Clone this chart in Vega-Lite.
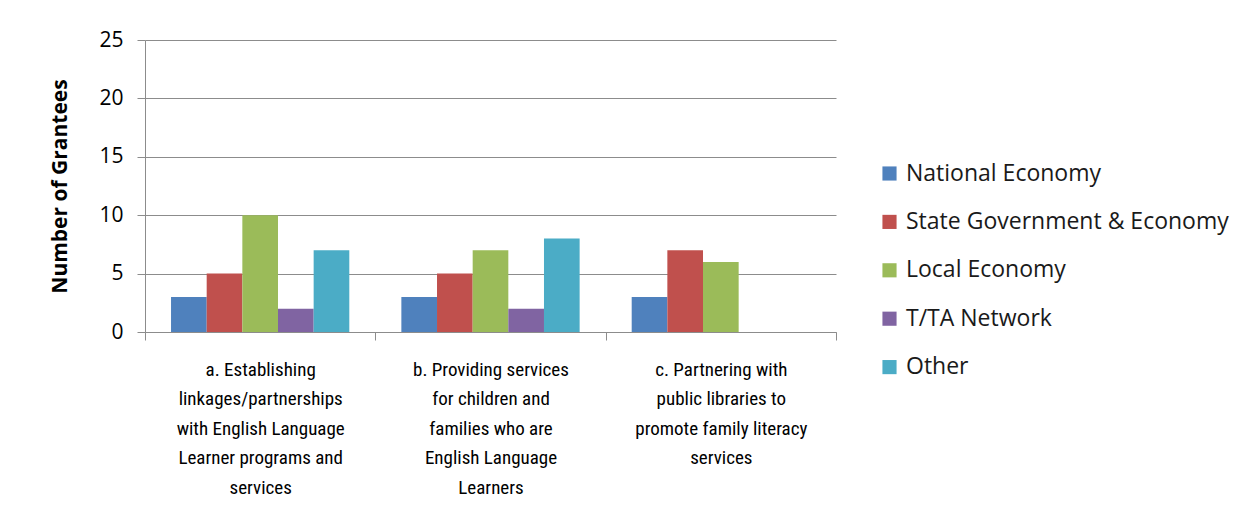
{
  "$schema": "https://vega.github.io/schema/vega-lite/v6.json",
  "autosize": "none",
  "width": 691,
  "height": 292,
  "padding": {"left": 145, "top": 40, "right": 418, "bottom": 193},
  "background": "white",
  "config": {
    "view": {"stroke": null},
    "font": "Lato",
    "axis": {"labelColor": "#000000", "titleColor": "#000000"}
  },
  "data": {
    "values": [
      {"category": "a. Establishing|linkages/partnerships|with English Language|Learner programs and|services", "series": "National Economy", "value": 3},
      {"category": "a. Establishing|linkages/partnerships|with English Language|Learner programs and|services", "series": "State Government & Economy", "value": 5},
      {"category": "a. Establishing|linkages/partnerships|with English Language|Learner programs and|services", "series": "Local Economy", "value": 10},
      {"category": "a. Establishing|linkages/partnerships|with English Language|Learner programs and|services", "series": "T/TA Network", "value": 2},
      {"category": "a. Establishing|linkages/partnerships|with English Language|Learner programs and|services", "series": "Other", "value": 7},
      {"category": "b. Providing services|for children and|families who are|English Language|Learners", "series": "National Economy", "value": 3},
      {"category": "b. Providing services|for children and|families who are|English Language|Learners", "series": "State Government & Economy", "value": 5},
      {"category": "b. Providing services|for children and|families who are|English Language|Learners", "series": "Local Economy", "value": 7},
      {"category": "b. Providing services|for children and|families who are|English Language|Learners", "series": "T/TA Network", "value": 2},
      {"category": "b. Providing services|for children and|families who are|English Language|Learners", "series": "Other", "value": 8},
      {"category": "c. Partnering with|public libraries to|promote family literacy|services", "series": "National Economy", "value": 3},
      {"category": "c. Partnering with|public libraries to|promote family literacy|services", "series": "State Government & Economy", "value": 7},
      {"category": "c. Partnering with|public libraries to|promote family literacy|services", "series": "Local Economy", "value": 6}
    ]
  },
  "mark": {"type": "bar"},
  "encoding": {
    "x": {
      "field": "category",
      "type": "nominal",
      "sort": null,
      "scale": {"paddingInner": 0, "paddingOuter": 0},
      "axis": {
        "title": null,
        "labelAngle": 0,
        "labelExpr": "isString(datum.value) ? split(datum.value, '|') : ''",
        "labelFont": "Liberation Sans Narrow, Roboto Condensed, Lato",
        "labelFontSize": 19,
        "labelLineHeight": 29.5,
        "labelLimit": 0,
        "labelPadding": 20,
        "labelBaseline": "top",
        "tickBand": "extent",
        "tickSize": 8,
        "tickColor": "#8c8c8c",
        "domainColor": "#8c8c8c",
        "grid": false
      }
    },
    "xOffset": {
      "field": "series",
      "type": "nominal",
      "sort": ["National Economy", "State Government & Economy", "Local Economy", "T/TA Network", "Other"],
      "scale": {"domain": ["National Economy", "State Government & Economy", "Local Economy", "T/TA Network", "Other"], "paddingInner": 0, "paddingOuter": 0.73}
    },
    "y": {
      "field": "value",
      "type": "quantitative",
      "scale": {"domain": [0, 25], "nice": false},
      "axis": {
        "title": "Number of Grantees",
        "titleFont": "Open Sans",
        "titleFontSize": 21,
        "titleFontWeight": "bold",
        "titlePadding": 28,
        "values": [0, 5, 10, 15, 20, 25],
        "labelFont": "Open Sans",
        "labelFontSize": 21,
        "labelPadding": 14,
        "tickSize": 8,
        "tickColor": "#8c8c8c",
        "domainColor": "#8c8c8c",
        "gridColor": "#8c8c8c",
        "gridOpacity": 1
      }
    },
    "color": {
      "field": "series",
      "type": "nominal",
      "sort": ["National Economy", "State Government & Economy", "Local Economy", "T/TA Network", "Other"],
      "scale": {
        "domain": ["National Economy", "State Government & Economy", "Local Economy", "T/TA Network", "Other"],
        "range": ["#4F81BD", "#C0504D", "#9BBB59", "#8064A2", "#4BACC6"]
      },
      "legend": {
        "title": null,
        "orient": "none",
        "legendX": 733,
        "legendY": 122,
        "symbolType": "square",
        "symbolSize": 200,
        "symbolStrokeWidth": 0,
        "labelFont": "Open Sans",
        "labelFontSize": 23,
        "labelLimit": 0,
        "labelColor": "#1a1a1a",
        "rowPadding": 24.4,
        "labelOffset": 5
      }
    }
  }
}
